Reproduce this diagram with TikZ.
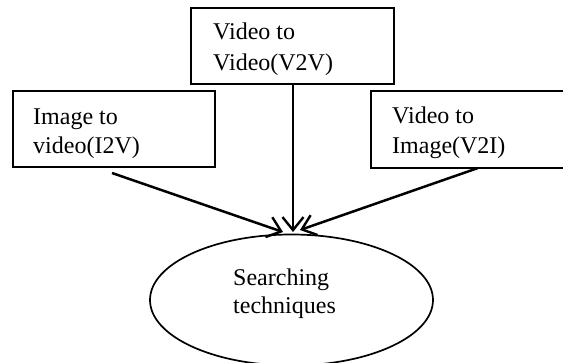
\documentclass[tikz,border=0pt]{standalone}
\usepackage{fontspec}
\setmainfont{Liberation Serif}
\usetikzlibrary{shapes.geometric,arrows.meta}
\tikzset{
  boxshape/.style={draw, line width=1.7pt, rectangle, anchor=north west, inner sep=0pt},
  label/.style={anchor=base west, inner sep=0pt, font=\fontsize{24}{28}\selectfont},
  flow/.style={line width=2.5pt, -{Straight Barb[length=13pt,width=21pt,line width=2.4pt]}}
}
\begin{document}
\begin{tikzpicture}[x=1pt,y=-1pt]
  \useasboundingbox (0,0) rectangle (563,362);
  \clip (0,0) rectangle (563,362);
  \fill[white] (0,0) rectangle (563,362);

  % boxes
  \node[boxshape, minimum width=203pt, minimum height=76pt] (v2v) at (190,7) {};
  \node[boxshape, minimum width=202pt, minimum height=76pt] (i2v) at (12,90) {};
  \node[boxshape, minimum width=210pt, minimum height=77pt] (v2i) at (370,90) {};

  % box texts
  \node[label] (v2vA) at (213,39) {Video to};
  \node[label] (v2vB) at (213,70) {Video(V2V)};
  \node[label] (i2vA) at (33,124) {Image to};
  \node[label] (i2vB) at (33,153) {video(I2V)};
  \node[label] (v2iA) at (392,123) {Video to};
  \node[label] (v2iB) at (392,153) {Image(V2I)};

  % target ellipse
  \node[draw, ellipse, line width=1.7pt, minimum width=283pt, minimum height=131pt, inner sep=0pt] (search) at (291.5,300) {};
  \node[label] (searchA) at (233,285) {Searching};
  \node[label] (searchB) at (233,313) {techniques};

  % connector end points
  \coordinate (i2vout) at (112,173);
  \coordinate (v2iout) at (478,168);
  \coordinate (tipL) at (283,232);
  \coordinate (tipR) at (300,230);
  \coordinate (tipC) at (293,232);

  \draw[flow] (i2vout) -- (tipL);
  \draw[flow] (v2v.south -| tipC) -- (tipC);
  \draw[flow] (v2iout) -- (tipR);
\end{tikzpicture}
\end{document}
